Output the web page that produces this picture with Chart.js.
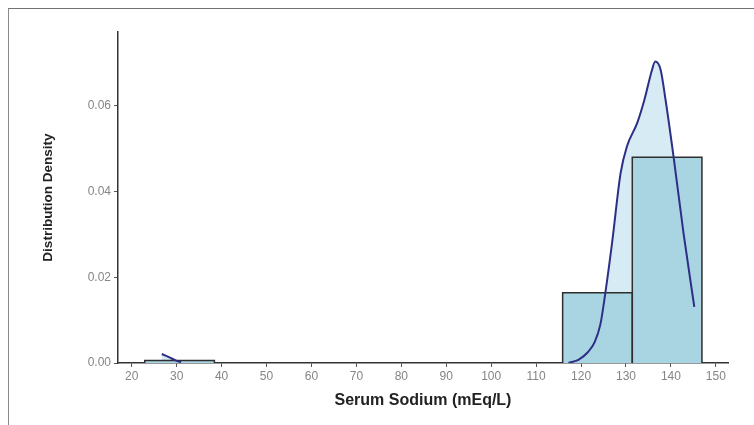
<!DOCTYPE html>
<html>
<head>
<meta charset="utf-8">
<script src="https://cdn.jsdelivr.net/npm/chart.js@4.4.1/dist/chart.umd.min.js"></script>
<style>
  html, body { margin: 0; padding: 0; background: #fff; }
  #wrap { position: relative; width: 754px; height: 425px; overflow: hidden; }
  #frame { position: absolute; left: 8px; top: 8px; right: -4px; bottom: -4px;
           border-top: 1.5px solid #727272; border-left: 1px solid #8a8a8a; }
  canvas { position: absolute; left: 0; top: 0; }
</style>
</head>
<body>
<div id="wrap">
  <canvas id="chart" width="754" height="425"></canvas>
  <div id="frame"></div>
</div>
<script>
// ── Data ────────────────────────────────────────
// histogram bins (mEq/L) and their densities
const binStart   = [22.9, 115.9, 131.4];
const binEnd     = [38.4, 131.4, 146.9];
const binDensity = [0.0006, 0.0164, 0.048];

// kernel density estimate, low outlier tail
const kdeLowX = [26.7, 28.4, 30.0, 31.0];
const kdeLowY = [0.0021, 0.0013, 0.0005, 0.0002];

// kernel density estimate, main body
const kdeX = [117.2, 119.5, 121.5, 123.0, 124.3, 125.4, 126.9, 128.8, 130.2, 132.5, 134.1, 135.8, 136.5, 137.7, 138.8, 140.6, 142.8, 145.2];
const kdeY = [0.0000, 0.0008, 0.0025, 0.0048, 0.0090, 0.0163, 0.0280, 0.0443, 0.0505, 0.0560, 0.0614, 0.0684, 0.0703, 0.0684, 0.0614, 0.0480, 0.0303, 0.0131];

const xTicks = [20, 30, 40, 50, 60, 70, 80, 90, 100, 110, 120, 130, 140, 150];
const yTicks = [0, 0.02, 0.04, 0.06];

// ── Build datasets ─────────────────────────────
const pts = (xs, ys) => xs.map((x, i) => ({ x, y: ys[i] }));
const kdePoints = pts(kdeLowX, kdeLowY).concat([{ x: 31.5, y: null }], pts(kdeX, kdeY));

const barSets = binStart.map((s, i) => ({
  data: [{ x: s, y: 0 }, { x: s, y: binDensity[i] }, { x: binEnd[i], y: binDensity[i] }, { x: binEnd[i], y: 0 }],
  fill: 'origin',
  backgroundColor: '#a9d5e3',
  borderColor: '#2e2e2e',
  borderWidth: 1.5,
  pointRadius: 0,
  tension: 0,
  order: 1,
}));

const kdeFill = {
  data: kdePoints,
  fill: 'origin',
  backgroundColor: '#d7ebf4',
  borderWidth: 0,
  pointRadius: 0,
  cubicInterpolationMode: 'monotone',
  spanGaps: false,
  order: 2,
};

const kdeLine = {
  data: kdePoints,
  fill: false,
  borderColor: '#2c2f85',
  borderWidth: 2,
  pointRadius: 0,
  cubicInterpolationMode: 'monotone',
  spanGaps: false,
  order: 0,
};

const tickFont = { family: 'Liberation Sans, Arial, sans-serif', size: 12 };

new Chart(document.getElementById('chart'), {
  type: 'line',
  data: { datasets: [kdeLine, ...barSets, kdeFill] },
  options: {
    responsive: false,
    devicePixelRatio: 1,
    animation: false,
    layout: { padding: { top: 32, right: 26, left: 0, bottom: 0 } },
    plugins: {
      legend: { display: false },
      tooltip: { enabled: false },
      filler: { drawTime: 'beforeDatasetsDraw' },
    },
    scales: {
      x: {
        type: 'linear',
        min: 16.95,
        max: 152.7,
        afterFit: (s) => { s.height = 62; },
        afterBuildTicks: (s) => { s.ticks = xTicks.map((v) => ({ value: v })); },
        ticks: { color: '#858585', font: tickFont, padding: 2, callback: (v) => String(v) },
        grid: { drawOnChartArea: false, drawTicks: true, tickLength: 4, color: '#555' },
        border: { display: true, color: '#333', width: 1.5 },
        title: {
          display: true,
          text: 'Serum Sodium (mEq/L)',
          color: '#222',
          font: { family: 'Liberation Sans, Arial, sans-serif', size: 16, weight: 'bold' },
          padding: { top: 0, bottom: 15 },
        },
      },
      y: {
        type: 'linear',
        min: 0,
        max: 0.0772,
        afterFit: (s) => { s.width = 118; },
        afterBuildTicks: (s) => { s.ticks = yTicks.map((v) => ({ value: v })); },
        ticks: { color: '#858585', font: tickFont, padding: 3, callback: (v) => Number(v).toFixed(2) },
        grid: { drawOnChartArea: false, drawTicks: true, tickLength: 4, color: '#555' },
        border: { display: true, color: '#333', width: 1.5 },
        title: {
          display: true,
          text: 'Distribution Density',
          color: '#222',
          font: { family: 'Liberation Sans, Arial, sans-serif', size: 13.5, weight: 'bold' },
          padding: { top: 40, bottom: 0 },
        },
      },
    },
  },
});
</script>
</body>
</html>
